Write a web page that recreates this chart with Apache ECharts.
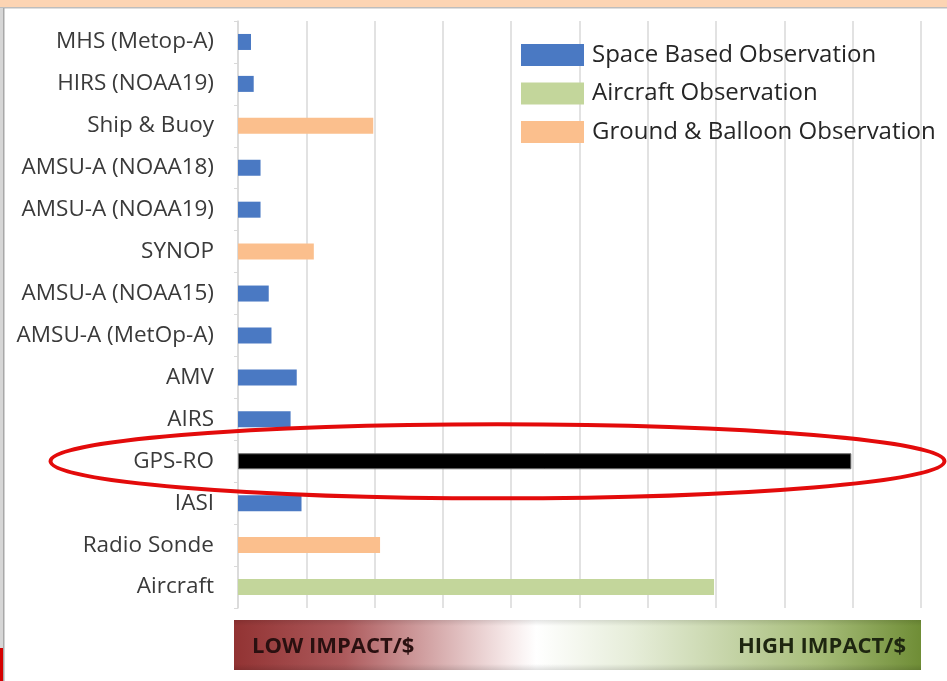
<!DOCTYPE html>
<html>
<head>
<meta charset="utf-8">
<script src="https://cdn.jsdelivr.net/npm/echarts@6/dist/echarts.min.js"></script>
<style>
  html, body { margin: 0; padding: 0; background: #ffffff; }
  #chart { width: 947px; height: 681px; }
</style>
</head>
<body>
<div id="chart"></div>
<script>
// Observation types, top to bottom
const categories = [
  'MHS (Metop-A)', 'HIRS (NOAA19)', 'Ship & Buoy', 'AMSU-A (NOAA18)',
  'AMSU-A (NOAA19)', 'SYNOP', 'AMSU-A (NOAA15)', 'AMSU-A (MetOp-A)',
  'AMV', 'AIRS', 'GPS-RO', 'IASI', 'Radio Sonde', 'Aircraft'
];

// Impact per dollar (relative units), one array per observation group
const spaceValues = [0.19, 0.23, null, 0.33, 0.33, null, 0.45, 0.49, 0.86, 0.77, 8.98, 0.93, null, null];
const aircraftValues = [null, null, null, null, null, null, null, null, null, null, null, null, null, 6.97];
const groundValues = [null, null, 1.98, null, null, 1.11, null, null, null, null, null, null, 2.08, null];

const seriesNames = ['Space Based Observation', 'Aircraft Observation', 'Ground & Balloon Observation'];
const highlighted = 'GPS-RO';

const chart = echarts.init(document.getElementById('chart'), null, { renderer: 'canvas' });

const FONT = '"Open Sans", Lato, sans-serif';

function spaceData() {
  return spaceValues.map((v, i) => categories[i] === highlighted
    ? { value: v, itemStyle: { color: '#000000', borderColor: '#6b6b6b', borderWidth: 1 } }
    : v);
}

const option = {
  animation: false,
  backgroundColor: '#ffffff',
  grid: { left: 238, right: 26, top: 21, bottom: 73, containLabel: false },
  legend: {
    orient: 'vertical',
    left: 516,
    top: 38,
    itemWidth: 63,
    itemHeight: 22,
    itemGap: 14.5,
    icon: 'rect',
    itemStyle: { borderWidth: 0 },
    textStyle: { fontFamily: FONT, fontSize: 24, lineHeight: 24, color: '#262626', padding: [0, 0, 0, 3] },
    data: seriesNames
  },
  xAxis: {
    type: 'value',
    min: 0,
    max: 10,
    interval: 1,
    axisLabel: { show: false },
    axisLine: { show: false },
    axisTick: { show: false },
    splitLine: { show: true, lineStyle: { color: '#d9d9d9', width: 1.5 } }
  },
  yAxis: {
    type: 'category',
    inverse: true,
    data: categories,
    axisLine: { show: true, lineStyle: { color: '#d9d9d9', width: 1.5 } },
    axisTick: { show: true, length: 4, lineStyle: { color: '#d9d9d9' } },
    axisLabel: { fontFamily: FONT, fontSize: 22.5, color: '#3a3a3a', margin: 24, padding: [2, 0, 0, 0] }
  },
  series: [
    {
      name: seriesNames[0], type: 'bar', stack: 'obs', barWidth: 16,
      itemStyle: { color: '#4a79c3' },
      data: spaceData()
    },
    {
      name: seriesNames[1], type: 'bar', stack: 'obs', barWidth: 16,
      itemStyle: { color: '#c3d69b' },
      data: aircraftValues
    },
    {
      name: seriesNames[2], type: 'bar', stack: 'obs', barWidth: 16,
      itemStyle: { color: '#fbbf8d' },
      data: groundValues
    }
  ]
};

chart.setOption(option);

// Frame decorations, impact scale bar and the highlight ring around GPS-RO
const gpsY = chart.convertToPixel({ yAxisIndex: 0 }, highlighted);
const x0 = chart.convertToPixel({ xAxisIndex: 0 }, 0);
const x10 = chart.convertToPixel({ xAxisIndex: 0 }, 10);

chart.setOption({
  graphic: [
    { type: 'rect', shape: { x: 0, y: 0, width: 947, height: 7 }, style: { fill: '#fcd4b3' }, silent: true },
    { type: 'rect', shape: { x: 0, y: 7, width: 947, height: 1.5 }, style: { fill: '#bdbdbd' }, silent: true },
    { type: 'rect', shape: { x: 0, y: 8, width: 4, height: 673 }, style: { fill: '#d6d6d6' }, silent: true },
    { type: 'rect', shape: { x: 3, y: 8, width: 1.5, height: 673 }, style: { fill: '#a8a8a8' }, silent: true },
    { type: 'rect', shape: { x: 0, y: 648, width: 3, height: 33 }, style: { fill: '#d40000' }, silent: true },
    {
      type: 'rect',
      shape: { x: x0 - 4, y: 620, width: x10 - x0 + 4, height: 50 },
      style: {
        fill: new echarts.graphic.LinearGradient(0, 0, 1, 0, [
          { offset: 0, color: '#923333' },
          { offset: 0.16, color: '#ad5a5c' },
          { offset: 0.40, color: '#f6e9e9' },
          { offset: 0.44, color: '#ffffff' },
          { offset: 0.58, color: '#e6edd9' },
          { offset: 0.85, color: '#a7bd7a' },
          { offset: 1, color: '#6f8d36' }
        ])
      },
      silent: true
    },
    {
      type: 'rect',
      shape: { x: x0 - 4, y: 620, width: x10 - x0 + 4, height: 50 },
      style: {
        fill: new echarts.graphic.LinearGradient(0, 0, 0, 1, [
          { offset: 0, color: 'rgba(0,0,0,0.10)' },
          { offset: 0.12, color: 'rgba(0,0,0,0)' },
          { offset: 0.88, color: 'rgba(0,0,0,0)' },
          { offset: 1, color: 'rgba(0,0,0,0.12)' }
        ])
      },
      silent: true
    },
    {
      type: 'text', left: 252, top: 636,
      style: { text: 'LOW IMPACT/$', font: 'bold 22px ' + FONT, fill: '#2a1010' },
      silent: true
    },
    {
      type: 'text', right: 947 - 906, top: 636,
      style: { text: 'HIGH IMPACT/$', font: 'bold 22px ' + FONT, fill: '#1e2610', align: 'right' },
      silent: true
    },
    {
      type: 'ellipse',
      shape: { cx: 497.5, cy: gpsY, rx: 447, ry: 37 },
      style: { fill: 'none', stroke: '#e30b0b', lineWidth: 4 },
      z: 100,
      silent: true
    }
  ]
});
</script>
</body>
</html>
